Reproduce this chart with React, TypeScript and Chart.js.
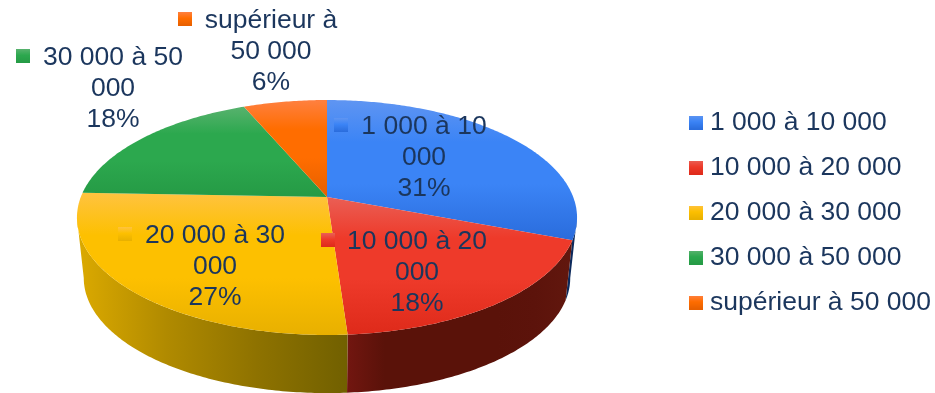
import React, { useEffect, useRef } from "react";
import { Chart, registerables } from "chart.js";

Chart.register(...registerables);

const categories = ["1 000 à 10 000", "10 000 à 20 000", "20 000 à 30 000", "30 000 à 50 000", "supérieur à 50 000"];
const shares = [30.8, 18.1, 26.7, 18.0, 6.4];
const mainColors = ["#3b84f6", "#ee3a2a", "#fdc000", "#2ca84e", "#ff6d00"];
const lightColors = ["#5f95f2", "#ea5f55", "#ffc340", "#58b26e", "#ff8040"];
const darkColors = ["#2a6cdc", "#de2a1a", "#e8b000", "#259a45", "#e65f00"];
const wallStops = [
  ["#0d2a5c", "#0d2a5c"],
  ["#721610", "#5a1209", "#5a1209", "#5a1209", "#5a1209", "#5c130b", "#62170e"],
  ["#dcaa00", "#b08a00", "#8e7200", "#716000"],
  ["#14592a", "#14592a"],
  ["#7a3700", "#7a3700"],
];
// label anchor: text left edge, first line centre y, block centre x
const labelLeft = [361, 348, 145, 43, 205];
const labelTop = [127, 242, 236, 58, 21];
const labelCentre = [424, 417, 215, 113, 271];

const TEXT = "#1b365d";
const FONT = '26.5px "Liberation Sans"';
const LINE = 31;
const CX = 327;
const CY = 197;
const K = 0.1745;
const TOP_A = 246.2;
const TOP_B = 113.9;
const BOT_A = 239.5;
const BOT_B = 111.5;
const BOT_CY = 258;
const FRONT_START = Math.asin(K);
const FRONT_END = Math.PI - FRONT_START;

const topPt = (a: number) => {
  const u = Math.cos(a), v = Math.sin(a), d = 1 - K * v;
  return [CX + (TOP_A * u) / d, CY + (TOP_B * v) / d];
};
const botPt = (a: number) => {
  const u = Math.cos(a), v = Math.sin(a), d = 1 - K * v;
  return [CX + (BOT_A * u) / d, BOT_CY + (BOT_B * v) / d];
};
const sweep = (s: number, e: number) => {
  const n = Math.max(2, Math.ceil(Math.abs(e - s) * 80));
  return Array.from({ length: n + 1 }, (_, i) => s + ((e - s) * i) / n);
};

const swatch = (i: number) => {
  const c = document.createElement("canvas");
  c.width = 14;
  c.height = 14;
  const x = c.getContext("2d")!;
  const g = x.createLinearGradient(0, 0, 0, 14);
  g.addColorStop(0, lightColors[i]);
  g.addColorStop(0.45, mainColors[i]);
  g.addColorStop(1, darkColors[i]);
  x.fillStyle = g;
  x.fillRect(0, 0, 14, 14);
  return c;
};

const wrap = (ctx: CanvasRenderingContext2D, t: string, max: number) => {
  const out: string[] = [];
  let cur = "";
  for (const w of t.split(" ")) {
    const next = cur ? cur + " " + w : w;
    if (ctx.measureText(next).width > max && cur) {
      out.push(cur);
      cur = w;
    } else cur = next;
  }
  out.push(cur);
  return out;
};

const pie3d = {
  id: "pie3d",
  beforeDatasetsDraw(chart: any) {
    const ctx: CanvasRenderingContext2D = chart.ctx;
    const arcs = chart.getDatasetMeta(0).data;
    ctx.save();
    // side walls: only the part of each slice that faces the viewer
    arcs.forEach((arc: any, i: number) => {
      const s = Math.max(arc.startAngle, FRONT_START);
      const e = Math.min(arc.endAngle, FRONT_END);
      if (e <= s) return;
      const pts = [...sweep(s, e).map(topPt), ...sweep(s, e).reverse().map(botPt)];
      const xs = pts.map((p) => p[0]);
      const g = ctx.createLinearGradient(Math.min(...xs), 0, Math.max(...xs), 0);
      const st = wallStops[i];
      st.forEach((c, j) => g.addColorStop(j / (st.length - 1), c));
      ctx.beginPath();
      pts.forEach((p, j) => (j ? ctx.lineTo(p[0], p[1]) : ctx.moveTo(p[0], p[1])));
      ctx.closePath();
      ctx.fillStyle = g;
      ctx.fill();
    });
    // top face
    arcs.forEach((arc: any, i: number) => {
      const rim = sweep(arc.startAngle, arc.endAngle).map(topPt);
      const pts = [[CX, CY], ...rim];
      const ys = pts.map((p) => p[1]);
      const g = ctx.createLinearGradient(0, Math.min(...ys), 0, Math.max(...ys));
      g.addColorStop(0, lightColors[i]);
      g.addColorStop(0.3, mainColors[i]);
      g.addColorStop(0.6, mainColors[i]);
      g.addColorStop(1, darkColors[i]);
      ctx.beginPath();
      pts.forEach((p, j) => (j ? ctx.lineTo(p[0], p[1]) : ctx.moveTo(p[0], p[1])));
      ctx.closePath();
      ctx.fillStyle = g;
      ctx.fill();
    });
    // data labels
    ctx.font = FONT;
    ctx.fillStyle = TEXT;
    ctx.textBaseline = "middle";
    const total = shares.reduce((a, b) => a + b, 0);
    categories.forEach((t, i) => {
      const lines = [...wrap(ctx, t, 165), Math.round((shares[i] / total) * 100) + "%"];
      ctx.textAlign = "center";
      lines.forEach((l, j) => ctx.fillText(l, labelCentre[i], labelTop[i] + j * LINE));
      ctx.drawImage(swatch(i), labelLeft[i] - 27, labelTop[i] - 9);
    });
    ctx.restore();
    return false;
  },
};

export default function App() {
  const ref = useRef<HTMLCanvasElement>(null);
  useEffect(() => {
    document.body.style.margin = "0";
    const chart = new Chart(ref.current!, {
      type: "pie",
      data: {
        labels: categories,
        datasets: [{ data: shares, backgroundColor: mainColors, borderWidth: 0 }],
      },
      options: {
        animation: false,
        responsive: false,
        layout: { padding: { top: 32, right: -6 } },
        plugins: {
          tooltip: { enabled: false },
          legend: {
            position: "right",
            labels: {
              usePointStyle: true,
              pointStyleWidth: 2,
              padding: 18.5,
              color: TEXT,
              font: { family: "Liberation Sans", size: 26.5 },
              generateLabels: (c: any) =>
                c.data.labels.map((text: string, i: number) => ({
                  text,
                  index: i,
                  hidden: false,
                  fillStyle: mainColors[i],
                  strokeStyle: "transparent",
                  lineWidth: 0,
                  pointStyle: swatch(i),
                  fontColor: TEXT,
                })),
            },
          },
        },
      },
      plugins: [pie3d],
    } as any);
    return () => chart.destroy();
  }, []);
  return <canvas ref={ref} width={935} height={393} style={{ display: "block" }} />;
}
